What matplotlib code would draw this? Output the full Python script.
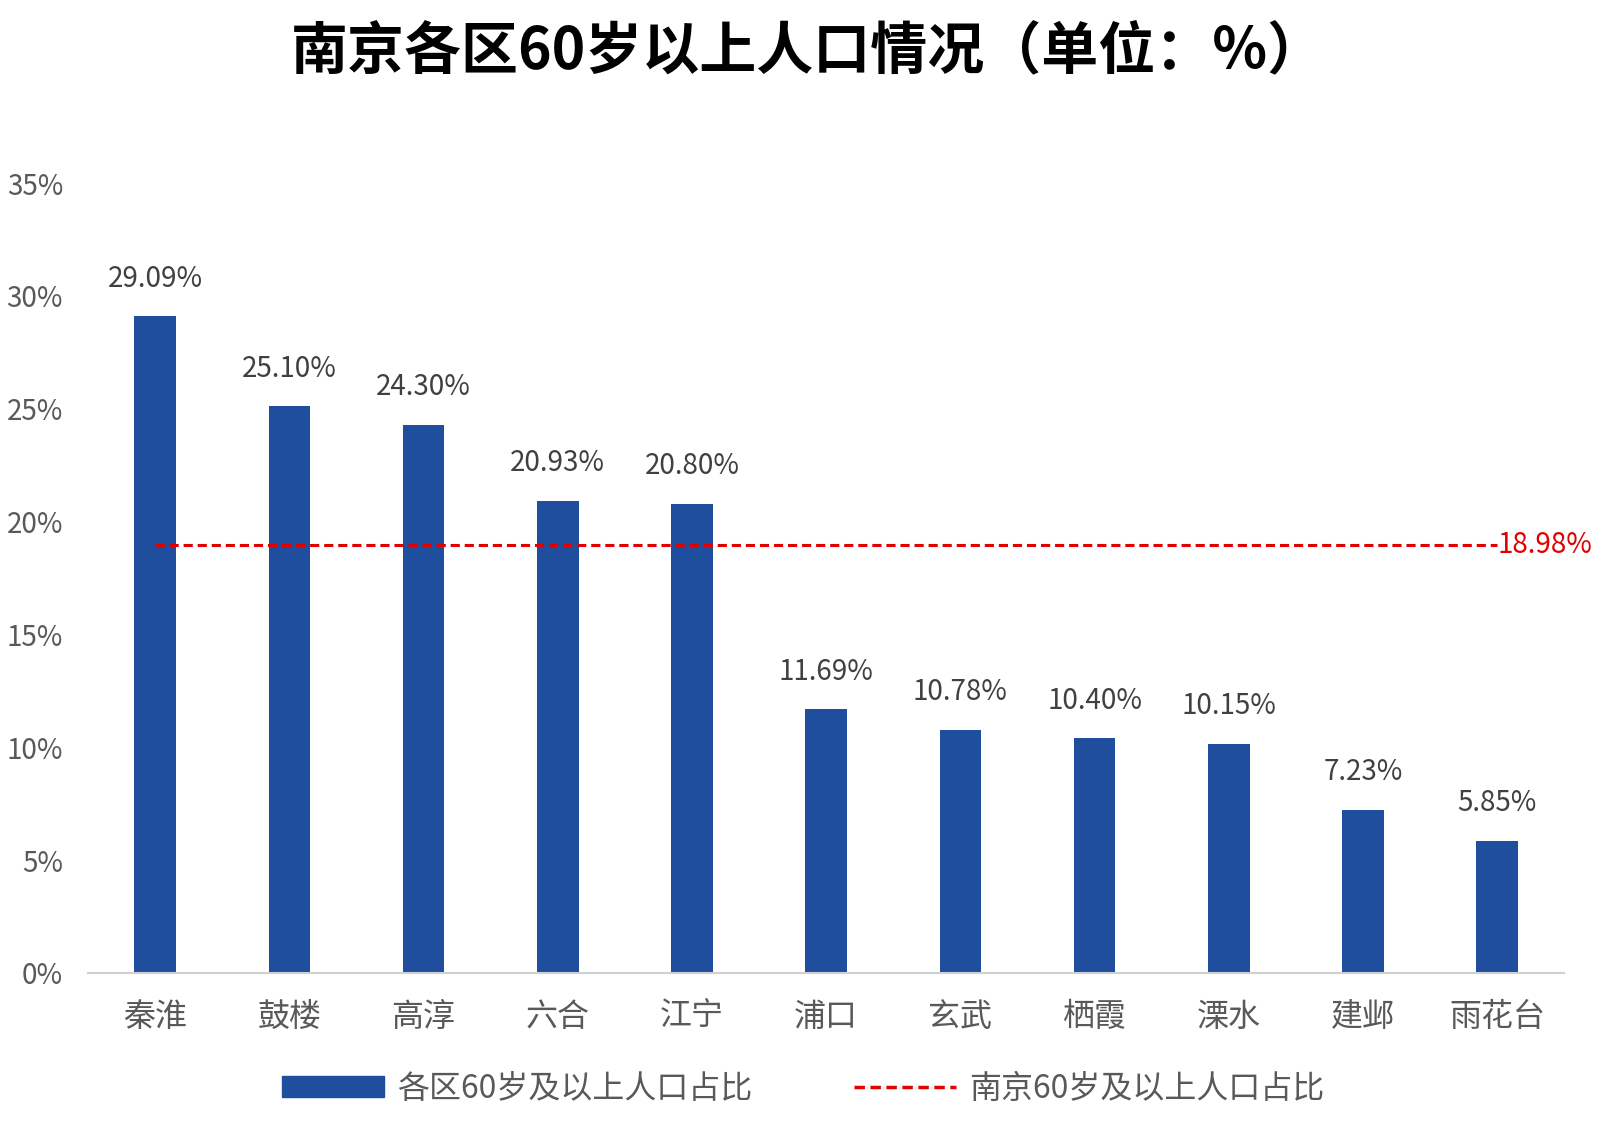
import matplotlib
matplotlib.use("Agg")
import matplotlib.pyplot as plt
from matplotlib.lines import Line2D
from matplotlib.patches import Patch

plt.rcParams['font.family'] = ['Noto Sans CJK SC', 'DejaVu Sans']

title = "南京各区60岁以上人口情况（单位：%）"
districts = ["秦淮", "鼓楼", "高淳", "六合", "江宁", "浦口", "玄武", "栖霞", "溧水", "建邺", "雨花台"]
values = [29.09, 25.10, 24.30, 20.93, 20.80, 11.69, 10.78, 10.40, 10.15, 7.23, 5.85]
city_avg = 18.98
yticks = [0, 5, 10, 15, 20, 25, 30, 35]
series_bar = "各区60岁及以上人口占比"
series_line = "南京60岁及以上人口占比"

fig = plt.figure(figsize=(16.16, 11.34), dpi=100)
ax = fig.add_axes([0.0545, 0.142, 0.9135, 0.6966])

x = list(range(len(districts)))
bar_color = "#1f4e9f"
ax.bar(x, values, width=0.31, color=bar_color, zorder=2)
for xi, v in zip(x, values):
    ax.text(xi, v + 1.0, f"{v:.2f}%", ha="center", va="bottom", fontsize=20, color="#404040")

ax.plot([x[0], x[-1]], [city_avg, city_avg], color="#e00000", linestyle=(0, (3, 1.6)), linewidth=2.2, zorder=3)
ax.text(x[-1] + 0.0, city_avg, f"{city_avg:.2f}%", ha="left", va="center", fontsize=20, color="#e00000")

ax.set_xlim(-0.5, len(districts) - 0.5)
ax.set_ylim(0, 35)
ax.set_yticks(yticks)
ax.set_yticklabels([f"{t}%" for t in yticks], fontsize=20, color="#595959")
ax.set_xticks(x)
ax.set_xticklabels(districts, fontsize=23, color="#595959")
ax.tick_params(axis="y", length=0, pad=18)
ax.tick_params(axis="x", length=0, pad=20)
for s in ["top", "right", "left"]:
    ax.spines[s].set_visible(False)
ax.spines["bottom"].set_color("#d0d0d0")
ax.spines["bottom"].set_linewidth(1.5)

fig.text(0.5, 0.955, title, ha="center", va="center", fontsize=41, fontweight="bold", color="black")

handles = [Patch(facecolor=bar_color, edgecolor=bar_color),
           Line2D([0], [0], color="#e00000", linestyle=(0, (3, 1.6)), linewidth=2.5)]
fig.legend(handles, [series_bar, series_line], loc="center", bbox_to_anchor=(0.497, 0.04),
           ncol=2, frameon=False, fontsize=23, labelcolor="#595959",
           handlelength=3.2, handleheight=0.6, columnspacing=3.2, handletextpad=0.4)

fig.savefig("out.png", dpi=100)
